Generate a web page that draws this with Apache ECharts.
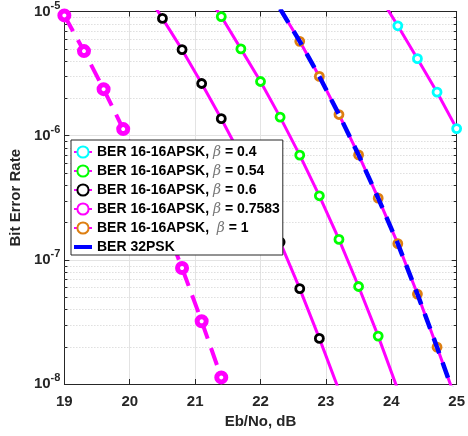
<!DOCTYPE html>
<html>
<head>
<meta charset="utf-8">
<script src="https://cdn.jsdelivr.net/npm/echarts@6/dist/echarts.min.js"></script>
<style>
  html, body { margin: 0; padding: 0; background: #fff; }
  #chart { width: 468px; height: 436px; }
</style>
</head>
<body>
<div id="chart"></div>
<script>
// Eb/No (dB) and BER values; points outside the axes only extend the lines
const ebnoB04 = [23.8, 24.1, 24.4, 24.7, 25.0];
const berB04 = [1.38e-5, 7.67e-6, 4.17e-6, 2.24e-6, 1.14e-6];

const ebnoB054 = [21.1, 21.4, 21.7, 22.0, 22.3, 22.6, 22.9, 23.2, 23.5, 23.8, 24.1];
const berB054 = [1.58e-5, 9.1e-6, 5.0e-6, 2.73e-6, 1.41e-6, 6.97e-7, 3.28e-7, 1.46e-7, 6.1e-8, 2.43e-8, 9.0e-9];

const ebnoB06 = [20.2, 20.5, 20.8, 21.1, 21.4, 21.7, 22.0, 22.3, 22.6, 22.9, 23.2];
const berB06 = [1.55e-5, 8.8e-6, 4.93e-6, 2.63e-6, 1.37e-6, 6.85e-7, 3.2e-7, 1.39e-7, 5.86e-8, 2.33e-8, 8.9e-9];

const ebnoB07583 = [19.0, 19.3, 19.6, 19.9, 20.2, 20.5, 20.8, 21.1, 21.4];
const berB07583 = [9.3e-6, 4.8e-6, 2.37e-6, 1.13e-6, 5.1e-7, 2.2e-7, 8.6e-8, 3.2e-8, 1.13e-8];

const ebnoB1 = [22.3, 22.6, 22.9, 23.2, 23.5, 23.8, 24.1, 24.4, 24.7, 25.0];
const berB1 = [1.05e-5, 5.75e-6, 3.0e-6, 1.48e-6, 7.0e-7, 3.14e-7, 1.35e-7, 5.3e-8, 1.98e-8, 7.2e-9];

const ebnoPsk = [22.3, 22.6, 22.9, 23.2, 23.5, 23.8, 24.1, 24.4, 24.7, 25.0];
const berPsk = [1.05e-5, 5.75e-6, 3.0e-6, 1.48e-6, 7.0e-7, 3.14e-7, 1.35e-7, 5.3e-8, 1.98e-8, 7.2e-9];

const names = [
  "BER 16-16APSK, β = 0.4",
  "BER 16-16APSK, β = 0.54",
  "BER 16-16APSK, β = 0.6",
  "BER 16-16APSK, β = 0.7583",
  "BER 16-16APSK,  β = 1",
  "BER 32PSK"
];

// minor log grid: 2..9 in each decade
const mantissas = [2, 3, 4, 5, 6, 7, 8, 9];
const decades = [-8, -7, -6];
const minorTicks = [];
decades.forEach(d => mantissas.forEach(m => minorTicks.push([19, m * Math.pow(10, d)])));

const zip = (xs, ys) => xs.map((x, i) => [x, ys[i]]);
const MAG = "#ff00ff";
const FONT = "Liberation Sans";

function markerLine(name, xs, ys, color) {
  return {
    name: name,
    type: "line",
    data: zip(xs, ys),
    symbol: "circle",
    symbolSize: 8,
    showAllSymbol: true,
    lineStyle: { color: MAG, width: 3 },
    itemStyle: { color: "#fff", borderColor: color, borderWidth: 2.8 },
    z: 2
  };
}

const chart = echarts.init(document.getElementById("chart"));

const option = {
  animation: false,
  backgroundColor: "#fff",
  textStyle: { fontFamily: FONT },
  grid: { left: 62, right: 9, top: 10, bottom: 52 },
  legend: {
    data: names.slice(0, 5).concat([{ name: names[5], icon: "path://M0,0L18,0L18,4L0,4Z" }]),
    orient: "vertical",
    left: 71,
    top: 140,
    padding: [5, 3, 1, 2],
    itemWidth: 18,
    itemHeight: 14,
    itemGap: 5,
    backgroundColor: "#fff",
    borderColor: "#262626",
    borderWidth: 1,
    borderRadius: 0,
    formatter: n => n.replace("β", "{b|β}"),
    textStyle: {
      fontFamily: FONT, fontSize: 14, fontWeight: "bold", color: "#000",
      rich: {
        b: { fontFamily: "DejaVu Serif", fontStyle: "italic", fontWeight: "normal", fontSize: 14, color: "#777" }
      }
    }
  },
  xAxis: [
    {
      type: "value", min: 19, max: 25, interval: 1,
      name: "Eb/No, dB", nameLocation: "middle", nameGap: 28,
      nameTextStyle: { fontFamily: FONT, fontSize: 15, fontWeight: "bold", color: "#262626" },
      axisLine: { show: true, onZero: false, lineStyle: { color: "#262626" } },
      axisTick: { inside: true, length: 5, lineStyle: { color: "#262626" } },
      axisLabel: { fontFamily: FONT, fontSize: 15, fontWeight: "bold", color: "#262626", margin: 10 },
      splitLine: { show: true, lineStyle: { color: "#e3e3e3", width: 1 } }
    },
    {
      type: "value", min: 19, max: 25, interval: 1, position: "top",
      axisLine: { show: true, onZero: false, lineStyle: { color: "#262626" } },
      axisTick: { inside: true, length: 5, lineStyle: { color: "#262626" } },
      axisLabel: { show: false },
      splitLine: { show: false }
    }
  ],
  yAxis: [
    {
      type: "log", logBase: 10, min: 1e-8, max: 1e-5, splitNumber: 3,
      name: "Bit Error Rate", nameLocation: "middle", nameGap: 38,
      nameTextStyle: { fontFamily: FONT, fontSize: 15, fontWeight: "bold", color: "#262626" },
      axisLine: { show: true, onZero: false, lineStyle: { color: "#262626" } },
      axisTick: { inside: true, length: 5, lineStyle: { color: "#262626" } },
      axisLabel: {
        margin: 4,
        formatter: v => "{a|10}{e|" + Math.round(Math.log10(v)) + "}",
        rich: {
          a: { fontFamily: FONT, fontSize: 15, fontWeight: "bold", color: "#262626", verticalAlign: "bottom", lineHeight: 15 },
          e: { fontFamily: FONT, fontSize: 11, fontWeight: "bold", color: "#262626", verticalAlign: "bottom", lineHeight: 11, padding: [0, 0, 8, 0] }
        }
      },
      splitLine: { show: true, lineStyle: { color: "#e3e3e3", width: 1 } }
    },
    {
      type: "log", logBase: 10, min: 1e-8, max: 1e-5, splitNumber: 3, position: "right",
      axisLine: { show: true, onZero: false, lineStyle: { color: "#262626" } },
      axisTick: { inside: true, length: 5, lineStyle: { color: "#262626" } },
      axisLabel: { show: false },
      splitLine: { show: false }
    }
  ],
  series: [
    {
      name: "minor",
      type: "custom",
      silent: true,
      z: 1,
      data: minorTicks,
      renderItem: (params, api) => {
        const cs = params.coordSys;
        const y = Math.round(api.coord([api.value(0), api.value(1)])[1]) + 0.5;
        return {
          type: "group",
          children: [
            { type: "line", shape: { x1: cs.x, y1: y, x2: cs.x + cs.width, y2: y },
              style: { stroke: "#cfcfcf", lineWidth: 1, lineDash: [1, 2] } },
            { type: "line", shape: { x1: cs.x, y1: y, x2: cs.x + 3, y2: y },
              style: { stroke: "#262626", lineWidth: 1 } },
            { type: "line", shape: { x1: cs.x + cs.width - 3, y1: y, x2: cs.x + cs.width, y2: y },
              style: { stroke: "#262626", lineWidth: 1 } }
          ]
        };
      }
    },
    markerLine(names[0], ebnoB04, berB04, "#00ffff"),
    markerLine(names[1], ebnoB054, berB054, "#00ff00"),
    markerLine(names[2], ebnoB06, berB06, "#000000"),
    {
      name: names[3],
      type: "line",
      data: zip(ebnoB07583, berB07583),
      symbol: "circle",
      symbolSize: 9,
      showAllSymbol: true,
      lineStyle: { color: MAG, width: 4, type: [18, 10] },
      itemStyle: { color: "#fff", borderColor: MAG, borderWidth: 5 },
      z: 2
    },
    markerLine(names[4], ebnoB1, berB1, "#dd7f12"),
    {
      name: names[5],
      type: "line",
      data: zip(ebnoPsk, berPsk),
      symbol: "none",
      lineStyle: { color: "#0000ff", width: 4.5, type: [16, 10] },
      itemStyle: { color: "#0000ff" },
      z: 3
    }
  ]
};

chart.setOption(option);
</script>
</body>
</html>
